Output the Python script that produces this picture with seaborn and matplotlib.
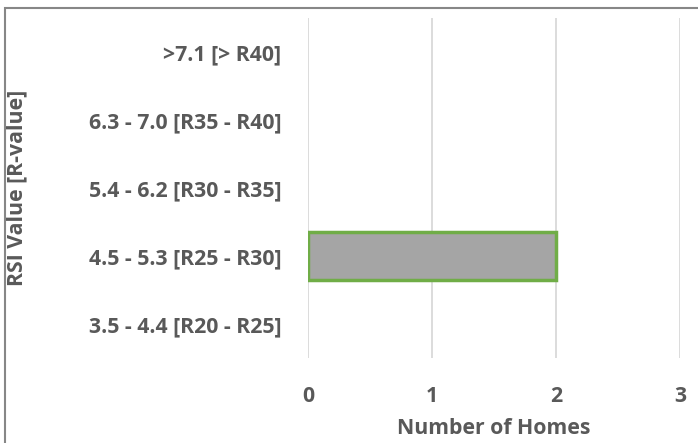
import matplotlib
matplotlib.use("Agg")
import matplotlib.pyplot as plt
import seaborn as sns
import pandas as pd
from matplotlib.patches import Rectangle

categories = [">7.1 [> R40]", "6.3 - 7.0 [R35 - R40]", "5.4 - 6.2 [R30 - R35]",
              "4.5 - 5.3 [R25 - R30]", "3.5 - 4.4 [R20 - R25]"]
homes = [0, 0, 0, 2, 0]
x_ticks = [0, 1, 2, 3]

df = pd.DataFrame({"RSI": categories, "Homes": homes})

sns.set_theme(style="white")
plt.rcParams['font.family'] = ['Open Sans', 'DejaVu Sans']
plt.rcParams['font.weight'] = 'bold'

text_color = "#595959"
fs = 15.3

fig = plt.figure(figsize=(6.98, 4.43), dpi=100)
ax = fig.add_axes([308/698, 1-358/443, (680-308)/698, (358-18)/443])

sns.barplot(data=df, x="Homes", y="RSI", order=categories, orient="h",
            color="#A5A5A5", edgecolor="#70AD47", linewidth=2.5, width=0.72,
            saturation=1, ax=ax)
for p in ax.patches:
    if p.get_width() == 0:
        p.set_linewidth(0)

ax.set_xlim(0, 3)
ax.set_xticks(x_ticks)
ax.xaxis.grid(True, color="#D9D9D9", linewidth=1.3)
ax.set_axisbelow(True)
for s in ax.spines.values():
    s.set_visible(False)
ax.tick_params(axis="both", length=0, colors=text_color, labelsize=fs)
ax.tick_params(axis="x", pad=20)
ax.tick_params(axis="y", pad=19)
for lbl in ax.get_xticklabels() + ax.get_yticklabels():
    lbl.set_fontweight("bold")
ax.set_xlabel("Number of Homes", color=text_color, fontsize=fs, fontweight="bold", labelpad=8)
ax.set_ylabel("")
fig.text(17/698, 1-188/443, "RSI Value [R-value]", rotation=90, ha="center", va="center",
         color=text_color, fontsize=fs, fontweight="bold")

fig.patches.append(Rectangle((5/698, -0.05), 1.2, 1-8/443+0.05, transform=fig.transFigure,
                             fill=False, edgecolor="#878787", linewidth=1.5))

fig.savefig("out.png", dpi=100)
